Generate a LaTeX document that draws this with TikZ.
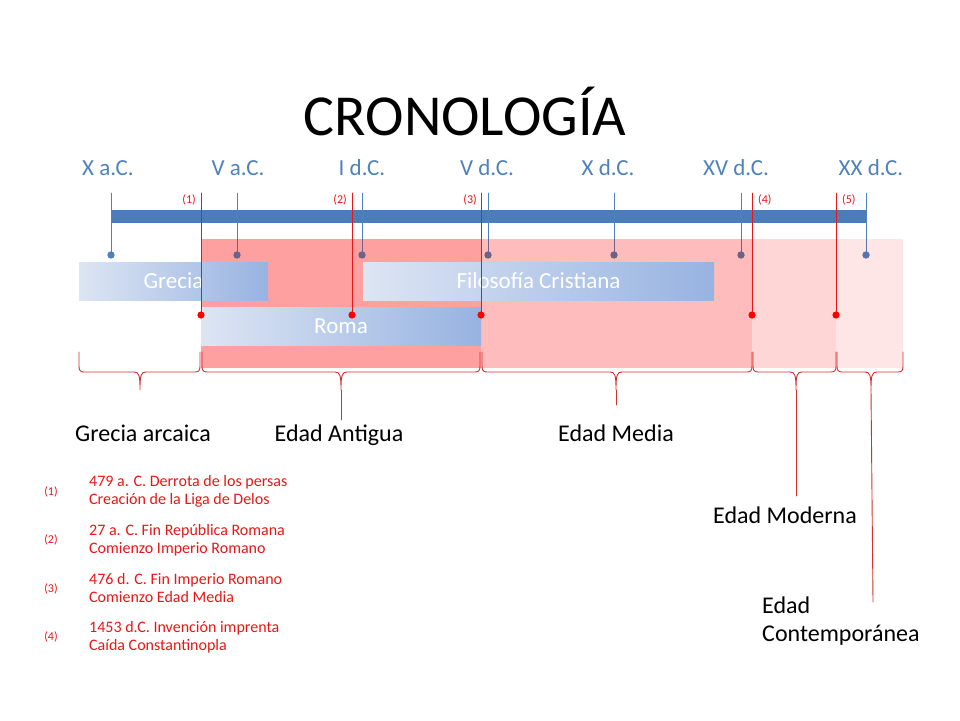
\documentclass[tikz,border=0pt]{standalone}
\usepackage{fontspec}
\setmainfont{Carlito}
\definecolor{azul}{RGB}{79,129,189}
\definecolor{azulbarra}{RGB}{74,126,187}
\definecolor{azulgris}{RGB}{88,116,170}
\definecolor{pizarra}{RGB}{110,98,134}
\definecolor{rojo}{RGB}{232,22,22}
\definecolor{llaverojo}{RGB}{215,45,45}
\definecolor{antigua}{RGB}{255,160,160}
\definecolor{media}{RGB}{255,188,188}
\definecolor{moderna}{RGB}{255,214,214}
\definecolor{contemp}{RGB}{255,230,230}
\definecolor{barclaro}{RGB}{221,229,243}
\definecolor{barosc}{RGB}{151,179,225}
\pgfdeclarehorizontalshading{barra}{100bp}{color(0bp)=(barclaro); color(25bp)=(barclaro); color(75bp)=(barosc); color(100bp)=(barosc)}
\tikzset{
	siglo/.style={text=azul,font=\fontsize{23}{23}\selectfont,anchor=base},
	periodo/.style={font=\fontsize{24}{28}\selectfont,anchor=base},
	barrabox/.style={shading=barra,inner sep=0pt,minimum height=38pt,text=white,font=\fontsize{23}{23}\selectfont,text height=14.8pt,text depth=0pt},
	llamada/.style={text=rojo,font=\fontsize{12}{12}\selectfont,inner sep=0pt,anchor=base},
	nota/.style={text=rojo,font=\fontsize{16}{18}\selectfont,align=left,inner sep=0pt,anchor=west},
	evento/.style={rojo,line width=1pt},
	llave/.style={llaverojo,line width=0.9pt}
}
\begin{document}
\begin{tikzpicture}[line cap=round,line join=round,x=1pt,y=-1pt]
		\useasboundingbox (0,0) rectangle (960,720);
		% epocas
		\fill[antigua] (201,239) rectangle (481,368);
		\fill[media] (481,239) rectangle (752,368);
		\fill[moderna] (752,239) rectangle (836,368);
		\fill[contemp] (836,239) rectangle (903,368);
		% titulo y siglos
		\node[font=\fontsize{58}{58}\selectfont,anchor=base] (titulo) at (465,135) {CRONOLOGÍA};
		\node[siglo] (s1) at (108,175) {X a.C.};
		\node[siglo] (s2) at (238,175) {V a.C.};
		\node[siglo] (s3) at (362,175) {I d.C.};
		\node[siglo] (s4) at (487,175) {V d.C.};
		\node[siglo] (s5) at (608,175) {X d.C.};
		\node[siglo] (s6) at (736,175) {XV d.C.};
		\node[siglo] (s7) at (871,175) {XX d.C.};
		% linea de tiempo
		\fill[azulbarra] (111,210) rectangle (866,223);
		\foreach \x/\c in {111/azul,237/pizarra,362/pizarra,488/pizarra,614/pizarra,741/pizarra,866/azulgris}
		{
			\draw[azul,line width=1pt] (\x,193) -- (\x,239);
			\draw[\c,line width=1pt] (\x,239) -- (\x,255);
			\fill[\c] (\x,255) circle (3.7);
		}
		% barras
		\node[barrabox,minimum width=189pt] (grecia) at (173.5,281) {Grecia};
		\node[barrabox,minimum width=351pt] (filosofia) at (538.5,281) {Filosofía Cristiana};
		\node[barrabox,minimum width=280pt] (roma) at (341,326) {Roma};
		% eventos
		\foreach \x/\n in {201/1,352/2,481/3,752/4,836/5}
		{
			\draw[evento] (\x,193) coordinate (ev\n) -- (\x,315) coordinate (pev\n);
			\fill[red] (pev\n) circle (3.6);
		}
		\node[llamada,anchor=base east] (l1) at (196,203) {(1)};
		\node[llamada,anchor=base east] (l2) at (347,203) {(2)};
		\node[llamada,anchor=base east] (l3) at (477,203) {(3)};
		\node[llamada,anchor=base west] (l4) at (758,203) {(4)};
		\node[llamada,anchor=base west] (l5) at (842,203) {(5)};
		% llaves
		\foreach \a/\m/\b/\n in {79/140/200/1,202/341/480/2,482/616/752/3,753/796/836/4,837/871/903/5}
		{
			\draw[llave] (\a,352) -- (\a,366) .. controls (\a,370) and (\a+1,372) .. (\a+5,372) -- (\m-6,372) .. controls (\m-1,372) and (\m,375) .. (\m,390) coordinate (punta\n) .. controls (\m,375) and (\m+1,372) .. (\m+6,372) -- (\b-5,372) .. controls (\b-1,372) and (\b,370) .. (\b,366) -- (\b,352);
		}
		\coordinate (fin2) at (341,420);
		\coordinate (fin3) at (616,405);
		\coordinate (fin4) at (796,496);
		\coordinate (fin5) at (873,602);
		\foreach \n in {2,3,4,5}
			\draw[llave] (punta\n) -- (fin\n);
		% periodos
		\node[periodo] (arcaica) at (143,441) {Grecia arcaica};
		\node[periodo] (edadant) at (339,441) {Edad Antigua};
		\node[periodo] (edadmed) at (616,441) {Edad Media};
		\node[periodo] (edadmod) at (785,523) {Edad Moderna};
		\node[periodo,align=left,anchor=north west,inner sep=0pt] (edadcon) at (762,597) {Edad\\Contemporánea};
		% notas
		\node[llamada] (n1) at (51,495) {(1)};
		\node[nota] (t1) at (89,491) {479 a. C. Derrota de los persas\\Creación de la Liga de Delos};
		\node[llamada] (n2) at (51,543) {(2)};
		\node[nota] (t2) at (89,540) {27 a. C. Fin República Romana\\Comienzo Imperio Romano};
		\node[llamada] (n3) at (51,592) {(3)};
		\node[nota] (t3) at (89,588) {476 d. C. Fin Imperio Romano\\Comienzo Edad Media};
		\node[llamada] (n4) at (51,640) {(4)};
		\node[nota] (t4) at (89,637) {1453 d.C. Invención imprenta\\Caída Constantinopla};
\end{tikzpicture}
\end{document}
